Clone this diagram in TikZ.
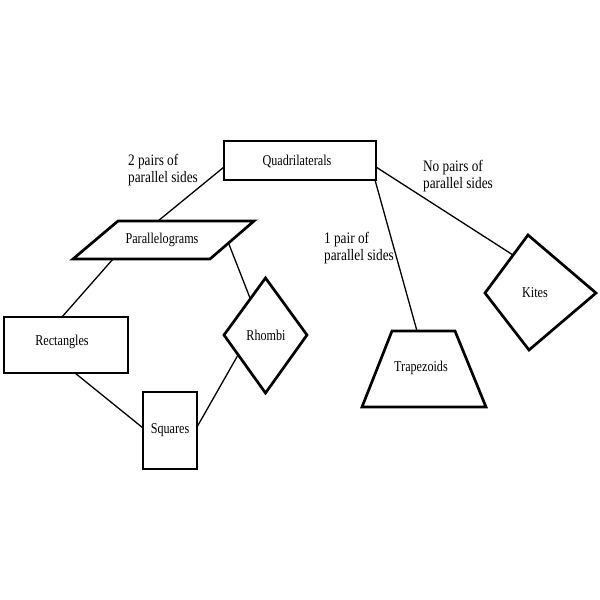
\documentclass[tikz,border=0pt]{standalone}
\usepackage{fontspec}
\setmainfont[FakeStretch=0.81]{Liberation Serif}
\newfontfamily\lblfont[FakeStretch=0.83]{Liberation Serif}
\begin{document}
\begin{tikzpicture}[x=1pt,y=-1pt,
  shapebox/.style={draw=black,line width=2.7pt,fill=white,line join=miter},
  conn/.style={draw=black,line width=1.3pt},
  boxtext/.style={inner sep=0pt,font=\fontsize{15}{17}\selectfont},
  lbl/.style={inner sep=0pt,align=left,font=\lblfont\fontsize{16}{17.5}\selectfont}]
\useasboundingbox[fill=white] (0,0) rectangle (600,600);
% connector end points
\coordinate (qa) at (224,167);
\coordinate (pa) at (158,221);
\coordinate (pb) at (113,259);
\coordinate (ra) at (62,317);
\coordinate (pc) at (228.5,243);
\coordinate (rha) at (250,298);
\coordinate (rb) at (75,373);
\coordinate (sa) at (143,428);
\coordinate (rhb) at (238,355);
\coordinate (sb) at (197,427);
\coordinate (qb) at (375,180);
\coordinate (ta) at (417,331);
\coordinate (qc) at (376,167);
\coordinate (ka) at (513,255);
% connectors
\draw[conn] (qa) -- (pa);
\draw[conn] (pb) -- (ra);
\draw[conn] (pc) -- (rha);
\draw[conn] (rb) -- (sa);
\draw[conn] (rhb) -- (sb);
\draw[conn] (qb) -- (ta);
\draw[conn] (qc) -- (ka);
% shapes
\draw[shapebox] (224,141) rectangle (376,180);
\draw[shapebox] (118,221) -- (254,221) -- (210,259) -- (73,259) -- cycle;
\draw[shapebox] (4,317) rectangle (128,373);
\draw[shapebox] (224,335) -- (265.5,278) -- (307,335) -- (265.5,393) -- cycle;
\draw[shapebox] (143,392) rectangle (197,469);
\draw[shapebox] (392,331) -- (455,331) -- (486,407) -- (362,407) -- cycle;
\draw[shapebox] (485,293) -- (528,235) -- (596,293) -- (529,350) -- cycle;
% texts
\node[boxtext] (quad) at (297,162) {Quadrilaterals};
\node[boxtext] (para) at (162,240) {Parallelograms};
\node[boxtext] (rect) at (62,342) {Rectangles};
\node[boxtext] (rhom) at (266,335) {Rhombi};
\node[boxtext] (squa) at (170,430) {Squares};
\node[boxtext] (trap) at (421,368) {Trapezoids};
\node[boxtext] (kite) at (535,293) {Kites};
\node[lbl] (l2) at (163,170) {2 pairs of\\parallel sides};
\node[lbl] (l1) at (359,248) {1 pair of\\parallel sides};
\node[lbl] (l0) at (458,176) {No pairs of\\parallel sides};
\end{tikzpicture}
\end{document}
